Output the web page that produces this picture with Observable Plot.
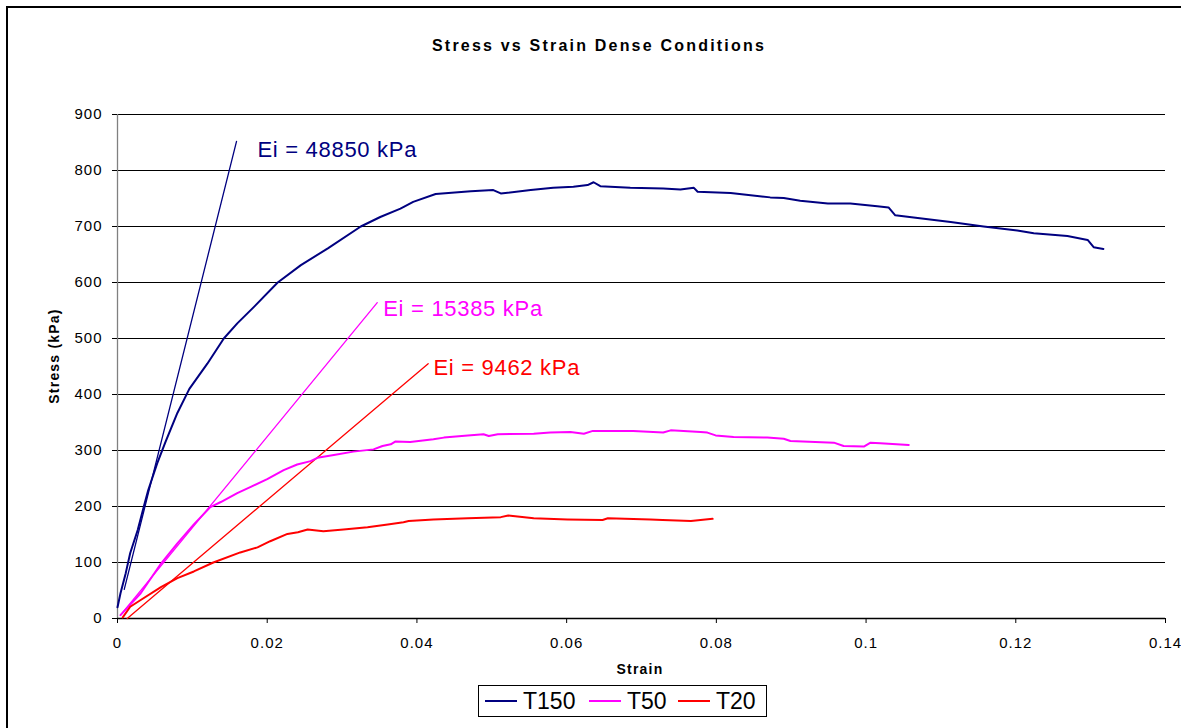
<!DOCTYPE html>
<html>
<head>
<meta charset="utf-8">
<script src="https://cdn.jsdelivr.net/npm/d3@7"></script>
<script src="https://cdn.jsdelivr.net/npm/@observablehq/plot@0.6"></script>
<style>
html,body{margin:0;padding:0;background:#fff;overflow:hidden;}
#wrap{position:relative;width:1181px;height:728px;overflow:hidden;background:#fff;}
#chart,#overlay{position:absolute;left:0;top:0;}
#overlay{pointer-events:none;}
#chart g[aria-label="y-axis tick label"] text,
#chart g[aria-label="x-axis tick label"] text{letter-spacing:1px;}
</style>
</head>
<body>
<div id="wrap"><div id="chart"></div><svg id="overlay" width="1181" height="728"></svg></div>
<script>
// ---- data ----
const seriesNames = ["T150", "T50", "T20"];
const seriesColors = ["#000080", "#FF00FF", "#FF0000"];

const t150Strain = [0, 0.0004, 0.0011, 0.0017, 0.0027, 0.0035, 0.0041, 0.0053, 0.0064, 0.0080, 0.0096, 0.0120, 0.0142, 0.0160, 0.0182, 0.0214, 0.0245, 0.0281, 0.0325, 0.0351, 0.0378, 0.0395, 0.0425, 0.0472, 0.0502, 0.0512, 0.0552, 0.0582, 0.0609, 0.0628, 0.0636, 0.0645, 0.0685, 0.0729, 0.0752, 0.0770, 0.0775, 0.0819, 0.0872, 0.0890, 0.0912, 0.0949, 0.0979, 0.1015, 0.1030, 0.1039, 0.1069, 0.1113, 0.1157, 0.1202, 0.1224, 0.1269, 0.1296, 0.1304, 0.1317];
const t150Stress = [20, 45, 81, 117, 158, 199, 229, 277, 315, 367, 410, 455, 500, 527, 556, 600, 631, 661, 700, 717, 732, 744, 758, 763, 765, 759, 765, 769, 771, 774, 779, 772, 769, 768, 766, 769, 762, 760, 752, 751, 746, 741, 741, 736, 734, 720, 715, 708, 700, 693, 688, 683, 676, 663, 660];

const t50Strain = [0.0004, 0.0031, 0.0057, 0.0080, 0.0102, 0.0124, 0.0138, 0.0160, 0.0178, 0.0200, 0.0222, 0.0240, 0.0258, 0.0267, 0.0289, 0.0315, 0.0342, 0.0354, 0.0365, 0.0371, 0.0391, 0.0422, 0.0436, 0.0468, 0.0489, 0.0496, 0.0508, 0.0556, 0.0578, 0.0605, 0.0623, 0.0635, 0.0672, 0.0689, 0.0729, 0.0739, 0.0779, 0.0788, 0.0799, 0.0823, 0.0868, 0.0890, 0.0899, 0.0957, 0.0970, 0.0997, 0.1006, 0.1019, 0.1057];
const t50Stress = [6, 45, 96, 134, 168, 199, 208, 224, 235, 249, 265, 275, 281, 287, 292, 298, 302, 308, 311, 316, 315, 320, 323, 327, 329, 326, 329, 330, 332, 333, 330, 335, 335, 335, 332, 336, 333, 332, 327, 324, 323, 321, 317, 314, 308, 307, 314, 313, 310];

const t20Strain = [0.0007, 0.0017, 0.0031, 0.0058, 0.0080, 0.0102, 0.0128, 0.0164, 0.0187, 0.0204, 0.0227, 0.0241, 0.0254, 0.0275, 0.0302, 0.0334, 0.0361, 0.0382, 0.0389, 0.0422, 0.0468, 0.0512, 0.0522, 0.0556, 0.0601, 0.0648, 0.0655, 0.0712, 0.0728, 0.0766, 0.0795];
const t20Stress = [2, 21, 33, 56, 72, 84, 100, 118, 127, 138, 151, 154, 159, 156, 159, 163, 168, 172, 174, 177, 179, 181, 184, 179, 177, 176, 179, 177, 176, 174, 178];

// initial tangent (Ei) lines: start / end points
const tangentStrain = [[0.0009, 0.0159], [0.0004, 0.0347], [0.0013, 0.0415]];
const tangentStress = [[52, 852], [6, 564], [0, 455]];
const tangentLabels = ["Ei = 48850 kPa", "Ei = 15385 kPa", "Ei = 9462 kPa"];
const labelStrain = [0.0187, 0.0355, 0.0422];
const labelStress = [825, 541, 434];

const xTicks = [0, 0.02, 0.04, 0.06, 0.08, 0.1, 0.12, 0.14];
const yTicks = [0, 100, 200, 300, 400, 500, 600, 700, 800, 900];

const titleText = "Stress vs Strain Dense Conditions";
const xLabel = "Strain";
const yLabel = "Stress (kPa)";

// ---- build tables ----
const curveStrain = [t150Strain, t50Strain, t20Strain];
const curveStress = [t150Stress, t50Stress, t20Stress];
const curves = seriesNames.flatMap((name, i) =>
  curveStrain[i].map((s, j) => ({series: name, strain: s, stress: curveStress[i][j]})));
const tangents = seriesNames.flatMap((name, i) =>
  tangentStrain[i].map((s, j) => ({series: name, strain: s, stress: tangentStress[i][j]})));
const labels = seriesNames.map((name, i) => ({series: name, text: tangentLabels[i], strain: labelStrain[i], stress: labelStress[i]}));

const color = {domain: seriesNames, range: seriesColors};
const FONT = "Liberation Sans, Arial, Helvetica, sans-serif";

const plot = Plot.plot({
  width: 1181, height: 728,
  marginLeft: 117, marginRight: 16, marginTop: 114, marginBottom: 110,
  x: {domain: [0, 0.14]},
  y: {domain: [0, 900]},
  color,
  style: {fontFamily: FONT, fontSize: "15px", color: "#000", background: "transparent", overflow: "visible"},
  marks: [
    Plot.ruleY(yTicks.filter(d => d > 0), {stroke: "#000", strokeWidth: 1}),
    Plot.ruleX([0], {stroke: "#808080", strokeWidth: 1.3}),
    Plot.ruleY([0], {stroke: "#000", strokeWidth: 1.3}),
    Plot.axisY({ticks: yTicks, tickSize: 5, tickPadding: 10, label: null, tickFormat: d => String(d)}),
    Plot.axisX({ticks: xTicks, tickSize: 5, tickPadding: 14, label: null, tickFormat: d => String(Math.round(d * 100) / 100)}),
    Plot.line(tangents, {x: "strain", y: "stress", z: "series", stroke: "series", strokeWidth: 1.3}),
    Plot.line(curves, {x: "strain", y: "stress", z: "series", stroke: "series", strokeWidth: 2, curve: "linear"}),
    Plot.text(labels, {x: "strain", y: "stress", text: "text", fill: "series", fontSize: 22, textAnchor: "start", lineAnchor: "bottom", fontFamily: FONT})
  ]
});
plot.querySelectorAll('g[aria-label="text"] text').forEach(t => t.style.letterSpacing = "0.7px");
document.getElementById("chart").appendChild(plot);

// ---- overlay: frame, title, axis titles, legend ----
const ov = d3.select("#overlay");
ov.append("rect").attr("x", 7).attr("y", 7).attr("width", 1400).attr("height", 1000)
  .attr("fill", "none").attr("stroke", "#000").attr("stroke-width", 2);
ov.append("text").attr("x", 599).attr("y", 51).attr("text-anchor", "middle")
  .style("font", `bold 16px ${FONT}`).style("letter-spacing", "2.2px").text(titleText);
ov.append("text").attr("x", 640).attr("y", 674).attr("text-anchor", "middle")
  .style("font", `bold 14px ${FONT}`).style("letter-spacing", "1.2px").text(xLabel);
ov.append("text").attr("transform", "translate(59,356) rotate(-90)").attr("text-anchor", "middle")
  .style("font", `bold 14px ${FONT}`).style("letter-spacing", "1.2px").text(yLabel);

const lg = ov.append("g");
lg.append("rect").attr("x", 478.5).attr("y", 685.5).attr("width", 288).attr("height", 31)
  .attr("fill", "#fff").attr("stroke", "#000").attr("stroke-width", 1);
const swX = [485, 589, 678];
const txX = [523, 627, 716];
seriesNames.forEach((name, i) => {
  lg.append("line").attr("x1", swX[i]).attr("x2", swX[i] + 32).attr("y1", 701).attr("y2", 701)
    .attr("stroke", seriesColors[i]).attr("stroke-width", 2);
  lg.append("text").attr("x", txX[i]).attr("y", 709).style("font", `23px ${FONT}`).text(name);
});
</script>
</body>
</html>
